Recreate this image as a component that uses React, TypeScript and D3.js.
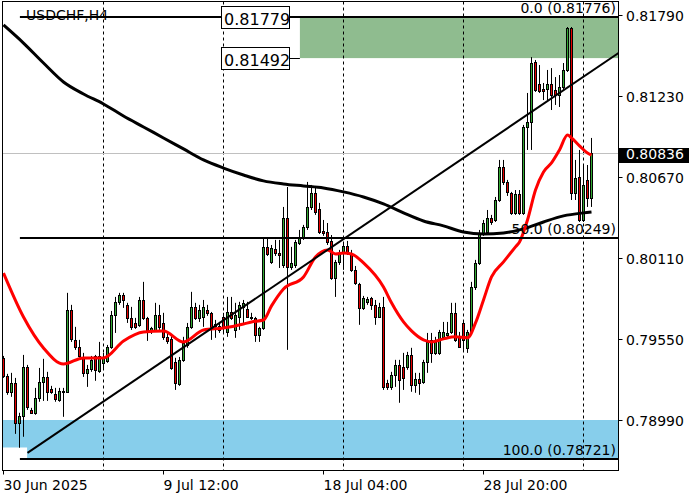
import React from 'react';
import * as d3 from 'd3';

const open = [0.79420,0.79295,0.79185,0.79247,0.78970,0.79019,0.79357,0.79060,0.79040,0.79143,
0.79254,0.79288,0.79205,0.79171,0.79129,0.79185,0.79185,0.79751,0.79544,0.79496,
0.79426,0.79316,0.79344,0.79433,0.79330,0.79385,0.79399,0.79496,0.79717,0.79807,
0.79855,0.79786,0.79696,0.79661,0.79648,0.79820,0.79696,0.79606,0.79613,0.79717,
0.79661,0.79565,0.79551,0.79392,0.79240,0.79406,0.79509,0.79634,0.79772,0.79696,
0.79703,0.79751,0.79731,0.79641,0.79613,0.79703,0.79599,0.79737,0.79613,0.79703,
0.79772,0.79758,0.79696,0.79696,0.79578,0.79627,0.80187,0.80083,0.80173,0.80145,
0.80062,0.80387,0.80048,0.80062,0.80214,0.80249,0.80325,0.80463,0.80560,0.80449,
0.80297,0.80290,0.80228,0.79972,0.80083,0.80145,0.80193,0.80145,0.80028,0.79931,
0.79765,0.79807,0.79834,0.79786,0.79703,0.79772,0.79247,0.79219,0.79302,0.79371,
0.79357,0.79357,0.79440,0.79233,0.79274,0.79254,0.79392,0.79544,0.79454,0.79454,
0.79565,0.79578,0.79599,0.79731,0.79565,0.79661,0.79489,0.79599,0.79910,0.80076,
0.80283,0.80290,0.80387,0.80373,0.80511,0.80739,0.80636,0.80560,0.80422,0.80553,
0.80422,0.81016,0.81050,0.81465,0.81313,0.81278,0.81278,0.81313,0.81271,0.81237,
0.81292,0.81410,0.81700,0.80560,0.80670,0.80373,0.80650,0.80525];

const high = [0.79433,0.79309,0.79316,0.79281,0.79040,0.79440,0.79371,0.79074,0.79212,0.79350,
0.79413,0.79323,0.79226,0.79212,0.79212,0.79212,0.79869,0.79786,0.79634,0.79544,
0.79454,0.79371,0.79433,0.79440,0.79530,0.79454,0.79509,0.79744,0.79841,0.79869,
0.79869,0.79800,0.79772,0.79696,0.79841,0.79945,0.79703,0.79634,0.79800,0.79786,
0.79731,0.79592,0.79578,0.79420,0.79426,0.79565,0.79661,0.79876,0.79800,0.79786,
0.79820,0.79786,0.79737,0.79682,0.79668,0.79731,0.79841,0.79841,0.79800,0.79807,
0.79820,0.79807,0.79731,0.79703,0.79634,0.80249,0.80249,0.80200,0.80235,0.80235,
0.80463,0.80601,0.80187,0.80235,0.80304,0.80339,0.80636,0.80615,0.80594,0.80491,
0.80373,0.80352,0.80269,0.80097,0.80166,0.80214,0.80228,0.80166,0.80055,0.79938,
0.79848,0.79841,0.79841,0.79820,0.79800,0.79841,0.79268,0.79323,0.79406,0.79406,
0.79454,0.79461,0.79489,0.79316,0.79316,0.79406,0.79592,0.79592,0.79565,0.79613,
0.79668,0.79668,0.79800,0.79800,0.79599,0.79668,0.79613,0.79945,0.80097,0.80304,
0.80373,0.80442,0.80408,0.80532,0.80788,0.80788,0.80650,0.80567,0.80580,0.80580,
0.81030,0.81251,0.81499,0.81479,0.81444,0.81320,0.81410,0.81423,0.81361,0.81375,
0.81458,0.81707,0.81707,0.80788,0.80857,0.80753,0.80753,0.80940];

const low = [0.79281,0.79164,0.79150,0.78894,0.78798,0.78874,0.79060,0.79033,0.79026,0.79116,
0.79122,0.79122,0.79171,0.79116,0.79116,0.79012,0.79178,0.79530,0.79475,0.79420,
0.79288,0.79219,0.79323,0.79261,0.79316,0.79337,0.79385,0.79482,0.79592,0.79786,
0.79765,0.79661,0.79613,0.79620,0.79634,0.79682,0.79537,0.79585,0.79599,0.79613,
0.79544,0.79516,0.79337,0.79198,0.79226,0.79392,0.79489,0.79620,0.79682,0.79668,
0.79634,0.79710,0.79544,0.79558,0.79592,0.79592,0.79565,0.79682,0.79558,0.79613,
0.79648,0.79696,0.79682,0.79530,0.79530,0.79613,0.80124,0.80069,0.80124,0.80041,
0.80041,0.79475,0.80028,0.80041,0.80200,0.80235,0.80304,0.80442,0.80408,0.80276,
0.80263,0.80200,0.79959,0.79841,0.80062,0.80028,0.80131,0.80014,0.79924,0.79648,
0.79751,0.79786,0.79751,0.79648,0.79696,0.79198,0.79198,0.79198,0.79219,0.79109,
0.79198,0.79337,0.79185,0.79178,0.79164,0.79240,0.79316,0.79385,0.79440,0.79440,
0.79551,0.79565,0.79585,0.79530,0.79489,0.79475,0.79454,0.79585,0.79889,0.80062,
0.80263,0.80276,0.80339,0.80359,0.80498,0.80615,0.80539,0.80408,0.80408,0.80408,
0.80408,0.80857,0.80857,0.81258,0.81251,0.81202,0.81202,0.81133,0.81168,0.81154,
0.81271,0.81396,0.80511,0.80511,0.80359,0.80359,0.80463,0.80463];

const close = [0.79295,0.79185,0.79247,0.78970,0.79019,0.79357,0.79081,0.79040,0.79143,0.79254,
0.79288,0.79185,0.79185,0.79136,0.79192,0.79192,0.79751,0.79551,0.79496,0.79433,
0.79316,0.79344,0.79406,0.79337,0.79433,0.79426,0.79496,0.79717,0.79807,0.79855,
0.79820,0.79696,0.79634,0.79634,0.79820,0.79696,0.79599,0.79627,0.79717,0.79634,
0.79565,0.79537,0.79350,0.79247,0.79406,0.79523,0.79634,0.79772,0.79696,0.79751,
0.79772,0.79731,0.79634,0.79655,0.79641,0.79634,0.79737,0.79696,0.79717,0.79786,
0.79800,0.79703,0.79703,0.79578,0.79627,0.80187,0.80138,0.80180,0.80145,0.80131,
0.80387,0.80048,0.80076,0.80221,0.80249,0.80325,0.80463,0.80560,0.80428,0.80290,
0.80283,0.80221,0.79972,0.80083,0.80145,0.80193,0.80145,0.80028,0.79938,0.79765,
0.79834,0.79827,0.79786,0.79703,0.79772,0.79219,0.79219,0.79302,0.79371,0.79268,
0.79281,0.79440,0.79233,0.79274,0.79247,0.79392,0.79530,0.79454,0.79530,0.79599,
0.79599,0.79592,0.79731,0.79544,0.79496,0.79544,0.79599,0.79910,0.80076,0.80283,
0.80352,0.80387,0.80359,0.80511,0.80739,0.80636,0.80567,0.80422,0.80553,0.80422,
0.81016,0.81050,0.81458,0.81271,0.81265,0.81265,0.81313,0.81237,0.81237,0.81292,
0.81410,0.81700,0.80560,0.80663,0.80373,0.80615,0.80525,0.80836];

// fast moving average (red), sampled bar index / value
const fastMaIdx = [0,5,10,15,20,25,30,35,40,45,50,55,60,62,65,67,70,75,78,81,83,85,87,90,95,97,100,102,105,107,110,113,116,118,120,122,125,128,129,131,133,135,137,139,141,142,144,146,147];
const fastMaVal = [0.80006,0.79702,0.79488,0.79377,0.79419,0.79419,0.79536,0.79598,0.79605,0.79529,0.79612,0.79626,0.79654,0.79668,0.79681,0.79779,0.79896,0.79979,0.80117,0.80166,0.80138,0.80145,0.80138,0.80076,0.79909,0.79800,0.79668,0.79606,0.79544,0.79530,0.79551,0.79565,0.79558,0.79661,0.79820,0.79979,0.80083,0.80187,0.80221,0.80373,0.80580,0.80705,0.80767,0.80857,0.80960,0.80940,0.80885,0.80836,0.80822];

// slow moving average (black)
const slowMaIdx = [0,5,10,15,20,25,30,35,40,45,50,55,60,65,70,75,80,85,90,95,100,105,110,115,120,125,130,135,140,145,147];
const slowMaVal = [0.81721,0.81596,0.81458,0.81327,0.81244,0.81175,0.81092,0.81016,0.80940,0.80864,0.80788,0.80732,0.80684,0.80643,0.80622,0.80608,0.80594,0.80567,0.80532,0.80484,0.80422,0.80366,0.80332,0.80290,0.80276,0.80283,0.80311,0.80359,0.80401,0.80422,0.80428];

const yTicks = [0.81790, 0.81230, 0.80670, 0.80110, 0.79550, 0.78990];
const xTickIdx = [0, 40, 80, 120];
const xTickLabels = ['30 Jun 2025', '9 Jul 12:00', '18 Jul 04:00', '28 Jul 20:00'];
const separatorIdx = [25, 55, 85, 115, 145];

const fibLevels = [0.81776, 0.80249, 0.78721];
const fibLabels = ['0.0 (0.81776)', '50.0 (0.80249)', '100.0 (0.78721)'];
const fibStartIdx = 4.1;

const lastPrice = 0.80836;
const greenZone = [0.81779, 0.81492];
const greenZoneStartIdx = 74.1;
const blueZone = [0.78990, 0.78721];
const priceLabels = ['0.81779', '0.81492'];
const priceLabelIdx = [54.5, 71.5];
const maskTop = 0.78800;
const maskEndIdx = 5.9;

const trendIdx = [6, 153.75];
const trendVal = [0.78763, 0.81527];

const symbol = 'USDCHF,H4';

const FONT = 'DejaVu Sans';

export default function App() {
  const W = 700, H = 500;
  const L = 2.5, R = 618.5, T = 1.5, B = 470.5;
  const x = d3.scaleLinear().domain([0, 120]).range([3.5, 483.5]);
  const y = d3.scaleLinear().domain([0.78990, 0.81790]).range([420, 15]);
  const fmt = d3.format('.5f');

  const line = d3.line<[number, number]>()
    .x(d => x(d[0]))
    .y(d => y(d[1]))
    .curve(d3.curveMonotoneX);
  const fastPath = line(fastMaIdx.map((v, i) => [v, fastMaVal[i]]) as [number, number][]) || '';
  const slowPath = line(slowMaIdx.map((v, i) => [v, slowMaVal[i]]) as [number, number][]) || '';
  const trendPath = d3.line<[number, number]>().x(d => x(d[0])).y(d => y(d[1]))(
    trendIdx.map((v, i) => [v, trendVal[i]]) as [number, number][]) || '';

  const ly = y(lastPrice);
  const gx0 = x(greenZoneStartIdx);
  const lbx0 = x(priceLabelIdx[0]);
  const lbx1 = x(priceLabelIdx[1]);

  return (
    <svg width={W} height={H} style={{ position: 'absolute', left: 0, top: 0, background: '#fff' }}
      fontFamily={FONT}>
      <defs>
        <clipPath id="plot">
          <rect x={L + 0.5} y={T + 0.5} width={R - L - 1} height={B - T - 1} />
        </clipPath>
      </defs>
      <rect x={0} y={0} width={W} height={H} fill="#fff" />
      <g clipPath="url(#plot)">
        {/* zones */}
        <rect x={gx0} y={y(greenZone[0])} width={R - gx0} height={y(greenZone[1]) - y(greenZone[0])} fill="#8fbc8f" />
        <rect x={L} y={y(blueZone[0])} width={R - L} height={y(blueZone[1]) - y(blueZone[0])} fill="#87ceeb" />
        <rect x={L} y={y(maskTop)} width={x(maskEndIdx) - L} height={y(blueZone[1]) - y(maskTop) + 1} fill="#fff" />
        {/* separators */}
        {separatorIdx.map(s => (
          <line key={s} x1={x(s)} x2={x(s)} y1={T} y2={B} stroke="#000" strokeWidth={1} strokeDasharray="3,3" />
        ))}
        {/* last price line */}
        <line x1={L} x2={R} y1={Math.round(ly) + 0.5} y2={Math.round(ly) + 0.5} stroke="#c0c0c0" strokeWidth={1} />
        {/* candles */}
        {open.map((o, i) => {
          const c = close[i];
          const cx = x(i);
          const up = c >= o;
          const yTop = Math.round(y(Math.max(o, c))) + 0.5;
          const yBot = Math.round(y(Math.min(o, c))) + 0.5;
          const h = Math.max(yBot - yTop, 1);
          return (
            <g key={i}>
              <line x1={cx} x2={cx} y1={y(high[i])} y2={y(low[i])} stroke="#000" strokeWidth={1} />
              <rect x={cx - 1} y={yTop} width={2} height={h} fill={up ? '#32a832' : '#e60000'} stroke="#000" strokeWidth={1} />
            </g>
          );
        })}
        {/* moving averages */}
        <path d={slowPath} fill="none" stroke="#000" strokeWidth={3} strokeLinejoin="round" />
        <path d={fastPath} fill="none" stroke="#ff0000" strokeWidth={3} strokeLinejoin="round" />
        {/* trend line */}
        <path d={trendPath} fill="none" stroke="#000" strokeWidth={2} />
        {/* fib levels */}
        {fibLevels.map((f, i) => (
          <g key={f}>
            <line x1={x(fibStartIdx)} x2={R} y1={Math.round(y(f))} y2={Math.round(y(f))} stroke="#000" strokeWidth={2} />
            <text x={616} y={Math.round(y(f)) - 4.5} textAnchor="end" fontSize={14} fill="#000">{fibLabels[i]}</text>
          </g>
        ))}
      </g>
      {/* price labels */}
      {priceLabels.map((p, i) => {
        const cy = y(greenZone[i]);
        return (
          <g key={p}>
            <rect x={lbx0} y={Math.round(cy) - 10.5} width={lbx1 - lbx0} height={22} fill="#fff" stroke="#000" strokeWidth={1} />
            <text x={lbx0 + 2.5} y={Math.round(cy) + 7.5} fontSize={16} fill="#000">{p}</text>
          </g>
        );
      })}
      <line x1={lbx1} x2={gx0} y1={Math.round(y(greenZone[1])) + 0.5} y2={Math.round(y(greenZone[1])) + 0.5} stroke="#000" strokeWidth={1} />
      {/* title */}
      <text x={26} y={20} fontSize={14} fill="#000">{symbol}</text>
      {/* frame */}
      <rect x={L} y={T} width={R - L} height={B - T} fill="none" stroke="#000" strokeWidth={1} />
      {/* right axis */}
      {yTicks.map(t => (
        <g key={t}>
          <line x1={R} x2={R + 4} y1={Math.round(y(t)) + 0.5} y2={Math.round(y(t)) + 0.5} stroke="#000" />
          <text x={626} y={Math.round(y(t)) + 6} fontSize={14} fill="#000">{fmt(t)}</text>
        </g>
      ))}
      <rect x={619} y={Math.round(ly) - 5} width={70} height={15} fill="#000" />
      <text x={626} y={Math.round(ly) + 6} fontSize={14} fill="#fff">{fmt(lastPrice)}</text>
      {/* bottom axis */}
      {xTickIdx.map((t, i) => (
        <g key={t}>
          <line x1={x(t)} x2={x(t)} y1={B} y2={B + 4} stroke="#000" />
          <text x={x(t)} y={490} fontSize={14} fill="#000">{xTickLabels[i]}</text>
        </g>
      ))}
    </svg>
  );
}
